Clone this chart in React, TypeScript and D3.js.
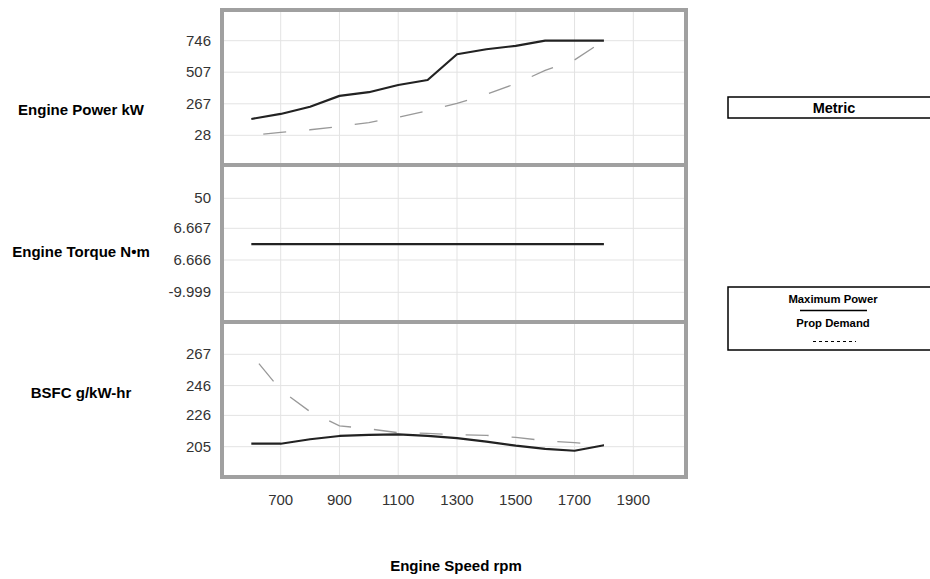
import React from "react";
import * as d3 from "d3";

const rpm = [600, 700, 800, 900, 1000, 1100, 1200, 1300, 1400, 1500, 1600, 1700, 1800];
const powerMax = [152, 190, 245, 327, 355, 410, 448, 643, 681, 707, 746, 746, 746];
const powerProp = [28, 50, 70, 95, 125, 165, 215, 270, 340, 420, 520, 600, 746];
const torqueMax = [6.6665, 6.6665, 6.6665, 6.6665, 6.6665, 6.6665, 6.6665, 6.6665, 6.6665, 6.6665, 6.6665, 6.6665, 6.6665];
const bsfcMax = [207, 207, 210, 212.2, 213, 213.3, 212.2, 210.8, 208.4, 205.7, 203.5, 202.3, 206];
const bsfcProp = [267, 243, 228.5, 219, 217, 214.4, 214, 213, 212.6, 211.3, 209, 207.7, 206.3];

const xTicks = [700, 900, 1100, 1300, 1500, 1700, 1900];
const powerTicks = [28, 267, 507, 746];
const torqueTicks = [-9.999, 6.666, 6.667, 50];
const torqueTickLabels = ["-9.999", "6.666", "6.667", "50"];
const bsfcTicks = [205, 226, 246, 267];

const FONT = "'Liberation Sans', Arial, Helvetica, sans-serif";

export default function App() {
  const left = 224;
  const right = 686;
  const x = d3.scaleLinear().domain([700, 1900]).range([280.7, 633.3]);

  const yPower = d3.scaleLinear().domain([28, 746]).range([135.3, 40.7]);
  const yTorque = d3.scaleLinear().domain(torqueTicks).range([292.3, 260, 228.3, 198.3]);
  const yBsfc = d3.scaleLinear().domain([205, 267]).range([446.7, 354.3]);

  const mk = (y: any, vals: number[]) =>
    d3.line<number>().x((_, i) => x(rpm[i])).y((v) => y(v))(vals) || "";

  const panels = [
    { top: 10, bottom: 165, y: yPower, ticks: powerTicks, labels: powerTicks.map(String), title: "Engine Power kW", titleY: 115, solid: powerMax, dashed: powerProp },
    { top: 165, bottom: 322, y: yTorque, ticks: torqueTicks, labels: torqueTickLabels, title: "Engine Torque N•m", titleY: 257, solid: torqueMax, dashed: null },
    { top: 322, bottom: 477, y: yBsfc, ticks: bsfcTicks, labels: bsfcTicks.map(String), title: "BSFC g/kW-hr", titleY: 398, solid: bsfcMax, dashed: bsfcProp },
  ];

  return (
    <svg width={930} height={579} style={{ position: "absolute", left: 0, top: 0, fontFamily: FONT }}>
      <rect x={0} y={0} width={930} height={579} fill="#fff" />
      {panels.map((p, pi) => (
        <g key={pi}>
          {xTicks.map((t) => (
            <line key={t} x1={x(t)} x2={x(t)} y1={p.top} y2={p.bottom} stroke="#e3e3e3" strokeWidth={1} />
          ))}
          {p.ticks.map((t, i) => (
            <g key={i}>
              <line x1={left} x2={right} y1={p.y(t)} y2={p.y(t)} stroke="#e3e3e3" strokeWidth={1} />
              <text x={211} y={p.y(t) + 5} textAnchor="end" fontSize={15} fill="#333">
                {p.labels[i]}
              </text>
            </g>
          ))}
          {p.dashed && (
            <path d={mk(p.y, p.dashed)} fill="none" stroke="#999" strokeWidth={1.3} strokeDasharray="23 23" strokeDashoffset={34} />
          )}
          <path d={mk(p.y, p.solid)} fill="none" stroke="#222" strokeWidth={2.2} strokeLinejoin="round" />
          <text x={81} y={p.titleY} textAnchor="middle" fontSize={15} fontWeight="bold" fill="#000">
            {p.title}
          </text>
        </g>
      ))}
      {/* frame */}
      <rect x={222} y={10} width={464} height={467} fill="none" stroke="#a0a0a0" strokeWidth={4} />
      <line x1={222} x2={686} y1={165} y2={165} stroke="#a0a0a0" strokeWidth={4} />
      <line x1={222} x2={686} y1={322} y2={322} stroke="#a0a0a0" strokeWidth={4} />
      {xTicks.map((t) => (
        <text key={t} x={x(t)} y={505} textAnchor="middle" fontSize={15} fill="#333">
          {t}
        </text>
      ))}
      <text x={456} y={571} textAnchor="middle" fontSize={15} fontWeight="bold" fill="#000">
        Engine Speed rpm
      </text>
      {/* legend */}
      <rect x={728} y={97} width={210} height={21} fill="none" stroke="#000" strokeWidth={1.5} />
      <text x={834} y={113} textAnchor="middle" fontSize={14.5} fontWeight="bold">Metric</text>
      <rect x={728} y={287} width={210} height={63} fill="none" stroke="#000" strokeWidth={1.5} />
      <text x={833} y={303} textAnchor="middle" fontSize={11.3} fontWeight="bold">Maximum Power</text>
      <line x1={800} x2={867} y1={310.5} y2={310.5} stroke="#000" strokeWidth={1.5} />
      <text x={833} y={327} textAnchor="middle" fontSize={11.3} fontWeight="bold">Prop Demand</text>
      <line x1={813} x2={856} y1={341.5} y2={341.5} stroke="#000" strokeWidth={1} strokeDasharray="3 3" />
    </svg>
  );
}
